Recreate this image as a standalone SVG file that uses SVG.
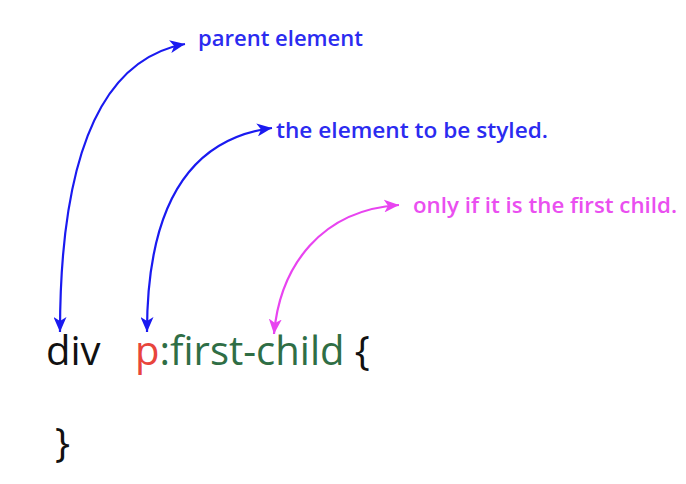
<svg xmlns="http://www.w3.org/2000/svg" width="686" height="484" viewBox="0 0 686 484">
<style>
.code{font-family:"Open Sans","DejaVu Sans",sans-serif;font-size:40px}
.lbl{font-family:"Open Sans","DejaVu Sans",sans-serif;font-size:22px;font-weight:600}
.blue{fill:#2b2bf0}
.mag{fill:#ea4ff0}
.conn{fill:none;stroke-width:2.2}
</style>
<defs>
<marker id="ab" viewBox="0 0 15 13" refX="15" refY="6.5" markerWidth="15" markerHeight="13" markerUnits="userSpaceOnUse" orient="auto-start-reverse">
<path d="M0,0 L15,6.5 L0,13 L4,6.5 z" fill="#1a1af0"/>
</marker>
<marker id="am" viewBox="0 0 15 13" refX="15" refY="6.5" markerWidth="15" markerHeight="13" markerUnits="userSpaceOnUse" orient="auto-start-reverse">
<path d="M0,0 L15,6.5 L0,13 L4,6.5 z" fill="#e844f0"/>
</marker>
</defs>
<rect width="686" height="484" fill="#ffffff"/>
<g id="connectors">
<path class="conn" stroke="#1a1af0" d="M60,332 C60,170 95,60 185,44" marker-start="url(#ab)" marker-end="url(#ab)"/>
<path class="conn" stroke="#1a1af0" d="M147,332 C147,220 180,140 272,128" marker-start="url(#ab)" marker-end="url(#ab)"/>
<path class="conn" stroke="#e844f0" d="M274,334 C280,265 322,210 399,205" marker-start="url(#am)" marker-end="url(#am)"/>
</g>
<g id="label-parent"><text class="lbl blue" x="198" y="46" textLength="165" lengthAdjust="spacingAndGlyphs">parent element</text></g>
<g id="label-styled"><text class="lbl blue" x="276" y="138" textLength="272" lengthAdjust="spacingAndGlyphs">the element to be styled.</text></g>
<g id="label-first"><text class="lbl mag" x="413" y="213" textLength="264" lengthAdjust="spacingAndGlyphs">only if it is the first child.</text></g>
<g id="code">
<text class="code" x="46" y="365"><tspan fill="#111111">div</tspan></text>
<text class="code" x="135" y="365"><tspan fill="#e8453c">p</tspan><tspan fill="#2f6e45">:first-child</tspan><tspan fill="#111111"> {</tspan></text>
<text class="code" x="55" y="457" fill="#111111">}</text>
</g>
</svg>
